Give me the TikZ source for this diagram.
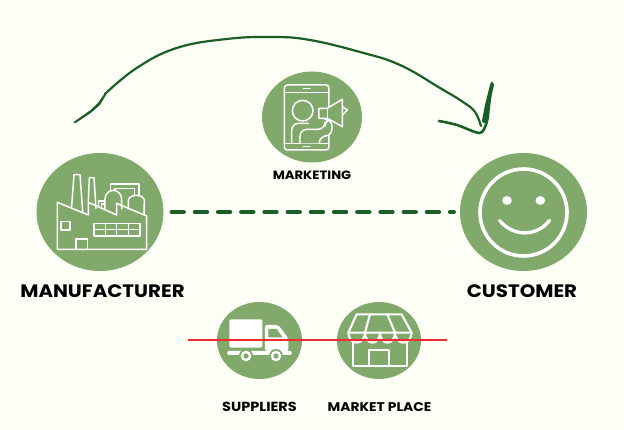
\documentclass[tikz,border=0pt]{standalone}
\usepackage{fontspec}
\setsansfont{Poppins}
\newfontface\wideheavy[FakeStretch=1.1]{Poppins-Bold}
\usepackage{xcolor}
\usetikzlibrary{arrows.meta,positioning,shapes.geometric,calc}
\definecolor{PageCream}{HTML}{FDFFF6}
\definecolor{LeafGreen}{HTML}{82A96C}
\definecolor{InkGreen}{HTML}{1B5E28}
\definecolor{CrossRed}{HTML}{EE2B30}
\tikzset{
  badge/.style={ellipse, fill=LeafGreen, inner sep=0pt},
  caption/.style={text=black, inner sep=0pt},
  biglabel/.style={caption, font=\wideheavy\fontsize{18}{20}\selectfont},
  smalllabel/.style={caption, font=\wideheavy\fontsize{12.6}{14}\selectfont},
  iconline/.style={draw=white, line width=1.5pt, line join=round, line cap=round},
  iconthick/.style={draw=white, line width=2.1pt, line join=round, line cap=round},
  handline/.style={draw=InkGreen, line cap=round, line join=round}
}

\begin{document}
\begin{tikzpicture}[x=1pt, y=-1pt]
\useasboundingbox (0,0) rectangle (624,430);
\fill[PageCream] (0,0) rectangle (624,430);

\node[badge, minimum width=127pt, minimum height=118pt] at (100,212) (maker) {};
\node[badge, minimum width=100pt, minimum height=91pt] at (312,117) (promo) {};
\node[badge, minimum width=127pt, minimum height=118pt] at (523.5,212) (buyer) {};
\node[badge, minimum width=85pt, minimum height=77pt] at (259.5,340.5) (truck) {};
\node[badge, minimum width=84pt, minimum height=77pt] at (379,340.5) (store) {};

\node[biglabel] at (102.5,291) (makerlabel) {MANUFACTURER};
\node[biglabel] at (522,291) (buyerlabel) {CUSTOMER};
\node[smalllabel, font=\wideheavy\fontsize{12}{14}\selectfont] at (312,175) (promolabel) {MARKETING};
\node[smalllabel, font=\wideheavy\fontsize{13.2}{14}\selectfont] at (259.5,407) (trucklabel) {SUPPLIERS};
\node[smalllabel] at (379.5,407) (storelabel) {MARKET PLACE};

% Factory
\begin{scope}[shift={(20,140)}, x=0.3333pt, y=-0.3333pt]
  \draw[iconline] (155,200) -- (162,104) -- (180,104) -- (188,215);
  \draw[iconline] (205,185) -- (208,113) -- (222,113) -- (228,205);
  \draw[iconline] (272,160) -- (272,132) -- (357,132) -- (357,175);
  \draw[iconline] (285,150) -- (285,145) -- (343,145) -- (343,170);
  \draw[iconline] (235,200) -- (235,183) -- (255,183);
  \draw[iconline] (245,205) -- (245,192) -- (255,192);
  \draw[iconline, fill=LeafGreen] (255,207) -- (255,178) arc[start angle=180, end angle=0, x radius=25, y radius=-27] -- (305,207);
  \draw[iconline, fill=LeafGreen] (325,207) -- (325,182) arc[start angle=180, end angle=0, x radius=24, y radius=-16] -- (372,224);
  \draw[iconline] (112,187) -- (112,328) -- (380,328) -- (380,228) -- (290,190) -- (290,225) -- (205,187) -- (205,225) -- cycle;
  \draw[iconline] (123,245) rectangle (150,270);
  \draw[iconline] (168,328) -- (168,297) -- (202,297) -- (202,328);
  \draw[iconline] (222,250) rectangle (360,288);
  \draw[iconline] (222,269) -- (360,269);
  \foreach \gridx in {256,290,325} {
    \draw[iconline] (\gridx,250) -- (\gridx,288);
  }
\end{scope}

% Phone with presenter and megaphone
\begin{scope}[shift={(250,60)}, x=0.3333pt, y=-0.3333pt]
  \draw[iconline, rounded corners=3pt] (103,75) rectangle (237,270);
  \draw[iconline] (103,97) -- (237,97);
  \draw[iconline] (103,250) -- (237,250);
  \draw[iconline] (160,85) -- (180,85);
  \draw[iconline] (160,260) -- (180,260);
  \draw[iconline] (158,152) circle[radius=31];
  \draw[iconline, rounded corners=7pt] (125,250) -- (125,190) -- (175,190);
  \draw[iconline, rounded corners=7pt, fill=LeafGreen] (150,250) -- (150,208) -- (225,208) -- (225,178) -- (246,178) -- (246,228) -- (208,228) -- (208,250);
  \draw[iconline, fill=LeafGreen] (207,145) -- (232,145) -- (277,118) -- (277,200) -- (232,175) -- (207,175) -- cycle;
  \draw[iconline] (232,145) -- (232,175);
  \draw[iconline] (277,140) -- (292,150) -- (277,165);
\end{scope}

% Delivery truck
\begin{scope}[shift={(180,295)}, x=0.3333pt, y=-0.3333pt]
  \fill[white, rounded corners=2pt] (148,73) rectangle (247,158);
  \fill[white, rounded corners=2pt] (255,90) -- (295,90) -- (325,130) -- (325,168) -- (255,168) -- cycle;
  \fill[LeafGreen] (265,102) -- (290,102) -- (308,127) -- (265,127) -- cycle;
  \fill[white, rounded corners=1pt] (142,168) rectangle (335,180);
  \foreach \wheelx in {198,288} {
    \fill[LeafGreen] (\wheelx,183) circle[radius=21];
    \fill[white] (\wheelx,183) circle[radius=16];
    \fill[LeafGreen] (\wheelx,183) circle[radius=8];
  }
\end{scope}

% Shop front
\begin{scope}[shift={(180,295)}, x=0.3333pt, y=-0.3333pt]
  \draw[iconthick] (530,58) -- (505,113) -- (695,113) -- (665,58) -- cycle;
  \draw[iconthick] (570,58) -- (555,113);
  \draw[iconthick] (622,58) -- (645,113);
  \draw[iconthick] (505,113) arc[start angle=180, end angle=360, x radius=25, y radius=-30];
  \draw[iconthick] (555,113) arc[start angle=180, end angle=360, x radius=22.5, y radius=-30];
  \draw[iconthick] (600,113) arc[start angle=180, end angle=360, x radius=22.5, y radius=-30];
  \draw[iconthick] (645,113) arc[start angle=180, end angle=360, x radius=25, y radius=-30];
  \draw[iconthick] (520,143) -- (520,213) -- (680,213) -- (680,143);
  \draw[iconthick] (568,213) -- (568,165) -- (628,165) -- (628,213);
\end{scope}

% Smiley
\begin{scope}[shift={(buyer.center)}]
  \draw[draw=white, line width=3.6pt] (0,0.5) circle[radius=43.5];
  \fill[white] (-16.5,-11.5) ellipse[x radius=4.8, y radius=4.4];
  \fill[white] (16.8,-11.5) ellipse[x radius=4.8, y radius=4.4];
  \draw[draw=white, line width=3.4pt, line cap=round] (-24,8.5) .. controls (-10,25) and (13,25) .. (26,8.5);
\end{scope}

% Direct link between the two big badges
\draw[draw=InkGreen, line width=4.4pt, line cap=round, dash pattern=on 12pt off 11.2pt, shorten <=8pt, shorten >=6pt] (maker.east) -- (buyer.west);

% Crossed-out channel
\coordinate (crossstart) at (188,340.5);
\coordinate (crossend) at (447,340.5);
\draw[draw=CrossRed, line width=2pt] (crossstart) -- (crossend);

% Hand-drawn sweep over the top
\coordinate (sweepstart) at (73.5,122);
\coordinate (sweeptip) at (481,126);
\draw[handline, line width=2.2pt] plot[smooth, tension=0.7] coordinates {(105,94) (136.7,68) (176.7,48) (226.7,39) (273,37) (310,40) (360,52) (400,65) (440,88) (463,102) (475,112) (sweeptip)};
\fill[InkGreen] (sweepstart) -- (90,110.5) -- (98,103) -- (105,93) -- (106,95) -- (100,105) -- (90,113.5) -- (75,123.5) -- cycle;
\draw[handline, line width=2.6pt] plot[smooth, tension=0.6] coordinates {(439,121) (457,125) (475,132) (482,132) (487,121) (489,105) (492,83)};
\draw[handline, line width=4pt] (484,121) -- (487,105) -- (492,85);
\end{tikzpicture}
\end{document}
